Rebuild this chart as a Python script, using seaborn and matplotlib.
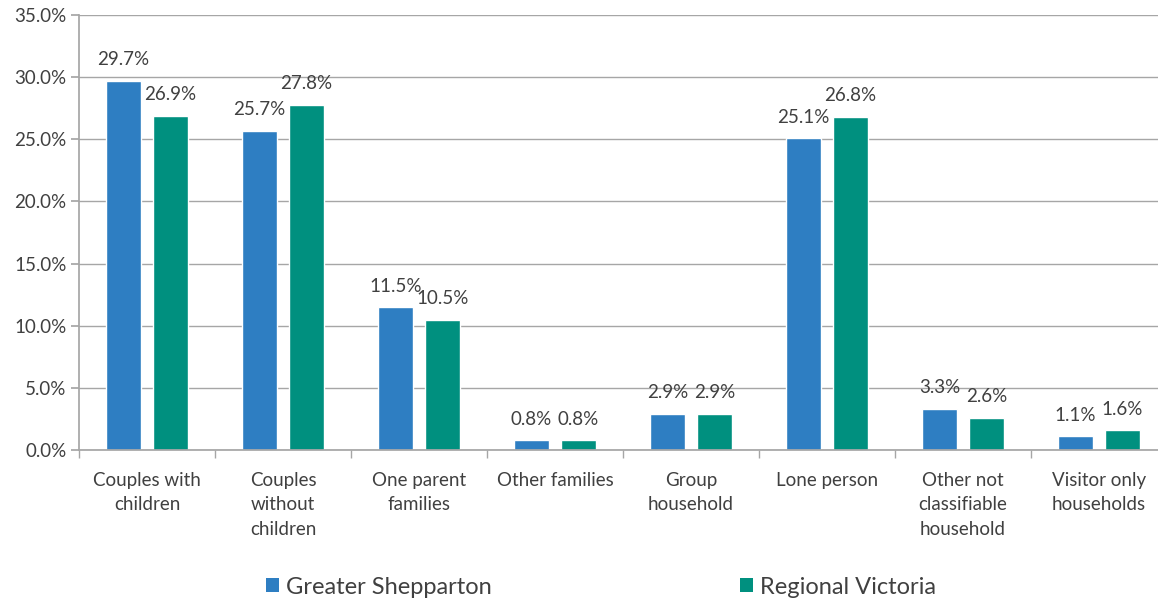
import matplotlib
matplotlib.use("Agg")
import matplotlib.pyplot as plt
import seaborn as sns
import pandas as pd
from matplotlib.patches import Patch
from matplotlib.ticker import FuncFormatter, FixedLocator

categories = ["Couples with\nchildren", "Couples\nwithout\nchildren", "One parent\nfamilies",
              "Other families", "Group\nhousehold", "Lone person",
              "Other not\nclassifiable\nhousehold", "Visitor only\nhouseholds"]
series_names = ["Greater Shepparton", "Regional Victoria"]
shepparton = [29.7, 25.7, 11.5, 0.8, 2.9, 25.1, 3.3, 1.1]
regional_vic = [26.9, 27.8, 10.5, 0.8, 2.9, 26.8, 2.6, 1.6]
colors = ["#2E7EC2", "#00907F"]

df = pd.DataFrame({
    "category": categories * 2,
    "series": [series_names[0]] * len(categories) + [series_names[1]] * len(categories),
    "value": shepparton + regional_vic,
})

sns.set_theme(style="white")
plt.rcParams["font.family"] = ["Lato", "DejaVu Sans"]
text_color = "#404040"
fs = 13.5

fig = plt.figure(figsize=(11.58, 6.02), dpi=100)
ax = fig.add_axes([79 / 1158, 0.2525, 1088 / 1158, 0.7225])

sns.barplot(data=df, x="category", y="value", hue="series", order=categories,
            hue_order=series_names, palette=colors, width=0.691, gap=0.245,
            saturation=1, ax=ax, legend=False)

for cont in ax.containers:
    ax.bar_label(cont, fmt="%.1f%%", padding=9, fontsize=fs, color=text_color)

ax.set_ylim(0, 35)
ax.set_xlim(-0.5, len(categories) - 0.5)
ax.set_yticks([0, 5, 10, 15, 20, 25, 30, 35])
ax.yaxis.set_major_formatter(FuncFormatter(lambda v, p: f"{v:.1f}%"))
ax.grid(axis="y", color="#A6A6A6", linewidth=1)
ax.set_axisbelow(True)
for s in ["top", "right"]:
    ax.spines[s].set_visible(False)
ax.spines["left"].set_color("#A6A6A6")
ax.spines["bottom"].set_color("#A6A6A6")
ax.tick_params(axis="y", length=6, color="#A6A6A6", labelsize=fs, labelcolor=text_color, left=True, pad=3)
ax.tick_params(axis="x", which="major", length=0, labelsize=fs, labelcolor=text_color, pad=16)
ax.xaxis.set_minor_locator(FixedLocator([i - 0.5 for i in range(len(categories) + 1)]))
ax.tick_params(axis="x", which="minor", length=6, color="#A6A6A6", bottom=True)
for lbl in ax.get_xticklabels():
    lbl.set_linespacing(1.52)
    lbl.set_verticalalignment("top")
ax.set_xlabel("")
ax.set_ylabel("")

handles = [Patch(facecolor=c, edgecolor="none") for c in colors]
fig.legend(handles, series_names, loc="center", bbox_to_anchor=(601 / 1158, 15 / 602), ncol=2,
           frameon=False, fontsize=17, handlelength=0.55, handleheight=0.55, handletextpad=0.3,
           columnspacing=10.5, labelcolor=text_color)

fig.savefig("out.png", dpi=100)
